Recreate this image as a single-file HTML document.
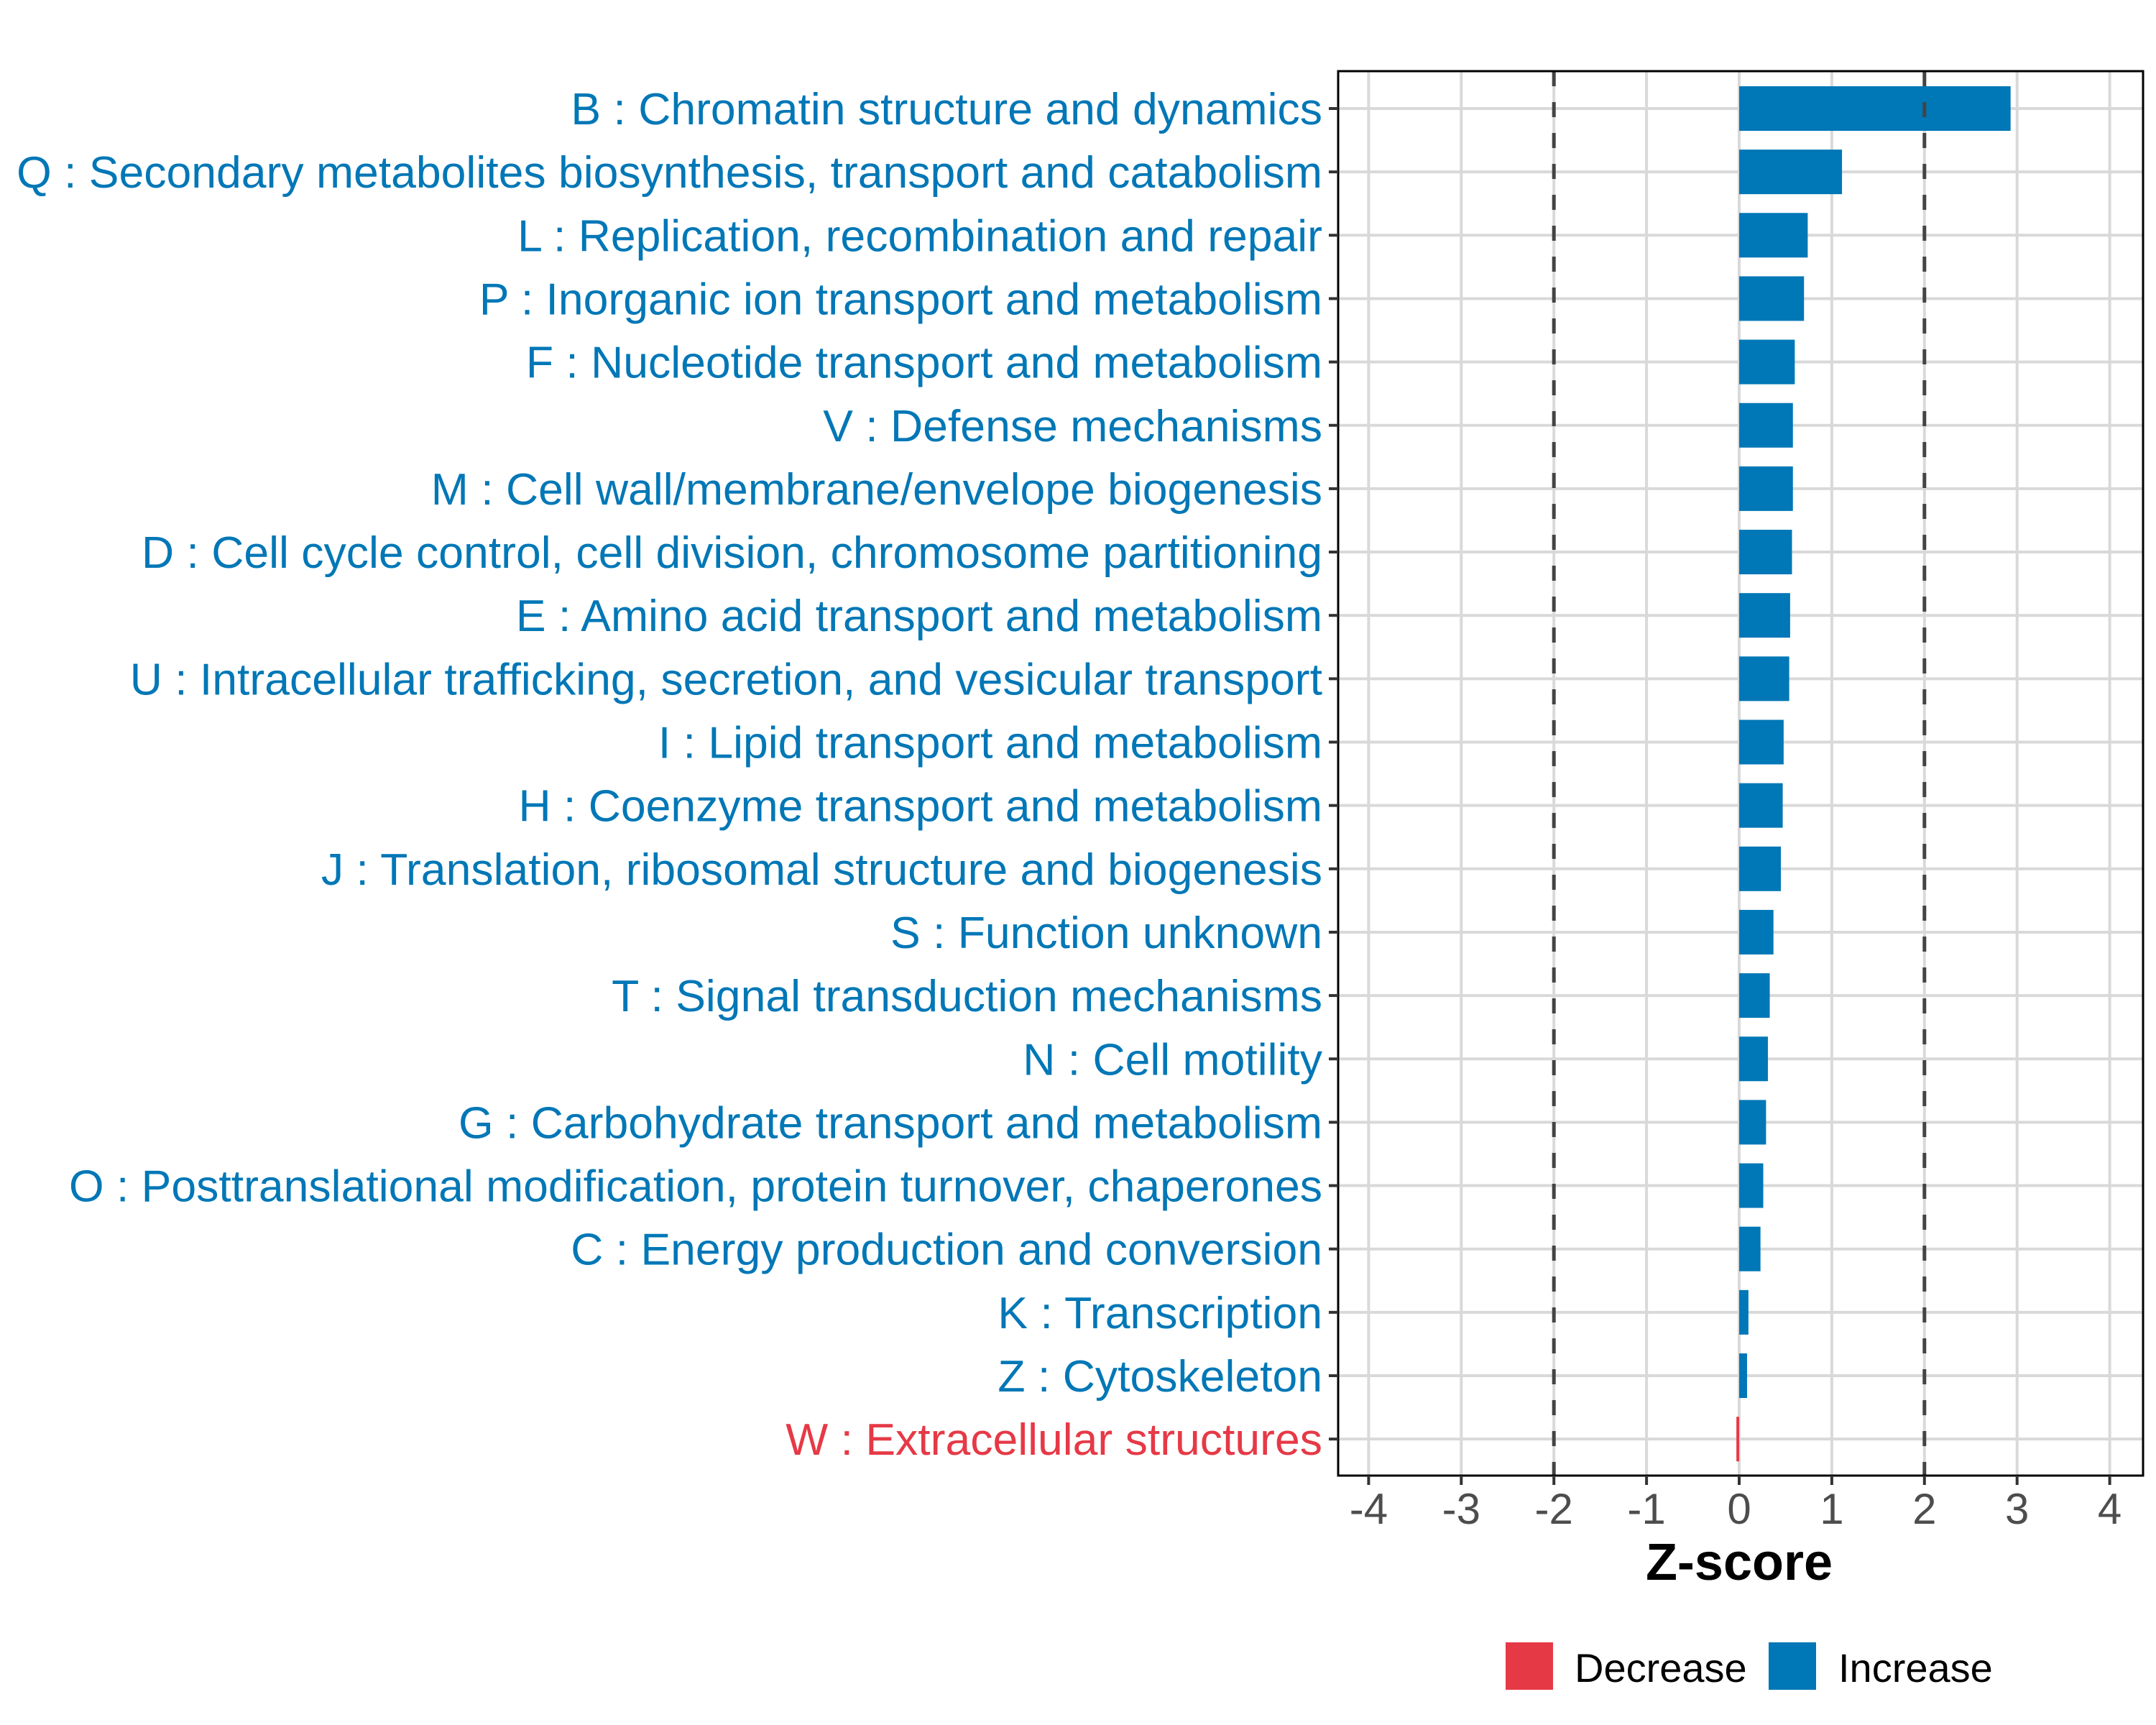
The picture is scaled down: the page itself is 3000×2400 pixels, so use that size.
<!DOCTYPE html>
<html><head><meta charset="utf-8"><style>
html,body{margin:0;padding:0;background:#fff;}
svg{display:block;font-family:"Liberation Sans",Arial,sans-serif;}
</style></head><body>
<svg id="chart" width="3000" height="2400" viewBox="0 0 3000 2400" xmlns="http://www.w3.org/2000/svg">
<rect x="0" y="0" width="3000" height="2400" fill="#fff"/>
<g id="grid"></g>
<g id="bars"></g>
<g id="refs"></g>
<rect x="1862" y="99" width="1120" height="1954" fill="none" stroke="#000" stroke-width="3"/>
<g id="yaxis"></g>
<g id="xaxis"></g>
<text x="2420" y="2198" text-anchor="middle" font-size="72" font-weight="bold" fill="#000">Z-score</text>
<g>
<rect x="2095" y="2285" width="66" height="66" fill="#E63946"/>
<text x="2191" y="2340" font-size="56" fill="#000">Decrease</text>
<rect x="2461" y="2285" width="66" height="66" fill="#0077B6"/>
<text x="2558" y="2340" font-size="56" fill="#000">Increase</text>
</g>
</svg>
<script>
const categories = [
"B : Chromatin structure and dynamics",
"Q : Secondary metabolites biosynthesis, transport and catabolism",
"L : Replication, recombination and repair",
"P : Inorganic ion transport and metabolism",
"F : Nucleotide transport and metabolism",
"V : Defense mechanisms",
"M : Cell wall/membrane/envelope biogenesis",
"D : Cell cycle control, cell division, chromosome partitioning",
"E : Amino acid transport and metabolism",
"U : Intracellular trafficking, secretion, and vesicular transport",
"I : Lipid transport and metabolism",
"H : Coenzyme transport and metabolism",
"J : Translation, ribosomal structure and biogenesis",
"S : Function unknown",
"T : Signal transduction mechanisms",
"N : Cell motility",
"G : Carbohydrate transport and metabolism",
"O : Posttranslational modification, protein turnover, chaperones",
"C : Energy production and conversion",
"K : Transcription",
"Z : Cytoskeleton",
"W : Extracellular structures"];
const zscores = [2.93,1.11,0.74,0.70,0.60,0.58,0.58,0.57,0.55,0.54,0.48,0.47,0.45,0.37,0.33,0.31,0.29,0.26,0.23,0.10,0.085,-0.03];
const xTicks = [-4,-3,-2,-1,0,1,2,3,4];
const xTickLabels = ["-4","-3","-2","-1","0","1","2","3","4"];
const refLines = [-2,2];

const NS="http://www.w3.org/2000/svg";
const X0=2420, UNIT=128.9, TOP=99, BOT=2053, LEFT=1862, RIGHT=2982, ROW0=151, STEP=88.15, BH=62;
function xs(v){return X0+v*UNIT;}
function ys(i){return ROW0+i*STEP;}
function mk(tag,attrs,parent){const e=document.createElementNS(NS,tag);for(const k in attrs)e.setAttribute(k,attrs[k]);parent.appendChild(e);return e;}
const grid=document.getElementById('grid'),bars=document.getElementById('bars'),refs=document.getElementById('refs'),ya=document.getElementById('yaxis'),xa=document.getElementById('xaxis');
xTicks.forEach((t,i)=>{
  const g=mk('line',{x1:xs(t),x2:xs(t),y1:TOP,y2:BOT,stroke:'#d9d9d9','stroke-width':4},grid);
  
  
  const tk=mk('line',{x1:xs(t),x2:xs(t),y1:BOT,y2:BOT+13,stroke:'#333','stroke-width':4},xa);
  
  
  const lb=mk('text',{x:xs(t),y:2120,'text-anchor':'middle','font-size':60,fill:'#4d4d4d'},xa);
  lb.textContent=xTickLabels[i];
  
  
});
categories.forEach((c,i)=>{
  const y=ys(i);
  const g=mk('line',{x1:LEFT,x2:RIGHT,y1:y,y2:y,stroke:'#d9d9d9','stroke-width':4},grid);
  
  
  const v=zscores[i];
  const col=v<0?'#E63946':'#0077B6';
  const x1=Math.min(xs(0),xs(v)),w=Math.abs(xs(v)-xs(0));
  const b=mk('rect',{x:x1,y:y-BH/2,width:Math.max(w,1),height:BH,fill:col},bars);
  
  
  const tk=mk('line',{x1:1849,x2:LEFT,y1:y,y2:y,stroke:'#333','stroke-width':4},ya);
  
  
  const lb=mk('text',{x:1840,y:y+22,'text-anchor':'end','font-size':62.5,fill:col},ya);
  lb.textContent=c;
  
  
});
refLines.forEach(r=>{
  const l=mk('line',{x1:xs(r),x2:xs(r),y1:TOP,y2:BOT,stroke:'#444','stroke-width':5,'stroke-dasharray':'21 22'},refs);
  
  
});
</script>
</body></html>
